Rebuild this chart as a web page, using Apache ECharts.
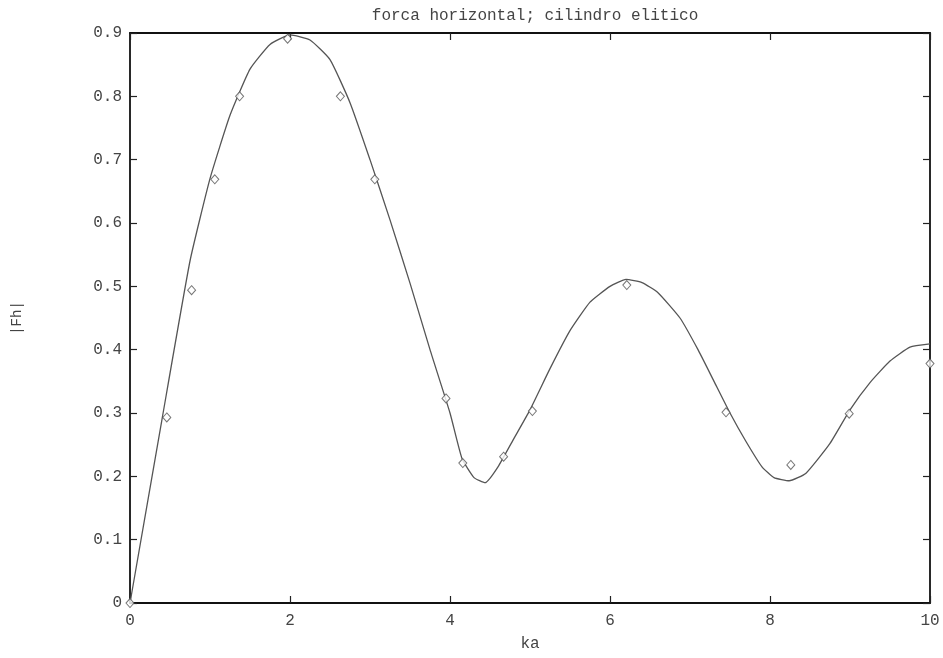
<!DOCTYPE html>
<html>
<head>
<meta charset="utf-8">
<script src="https://cdn.jsdelivr.net/npm/echarts@6/dist/echarts.min.js"></script>
<style>html,body{margin:0;padding:0;background:#fff;}#c{width:943px;height:658px;}</style>
</head>
<body>
<div id="c"></div>
<script>
// Curve (computed solution)
const curveKa = [0,0.4,0.75,1.0,1.25,1.5,1.75,2.0,2.25,2.5,2.75,3.0,3.25,3.5,3.75,4.0,4.15,4.3,4.44,4.6,4.8,5.0,5.25,5.5,5.75,6.0,6.2,6.4,6.6,6.875,7.1,7.3,7.5,7.7,7.9,8.05,8.24,8.45,8.75,9.0,9.25,9.5,9.75,10.0];
const curveFh = [0,0.29,0.54,0.67,0.77,0.843,0.882,0.897,0.889,0.858,0.79,0.70,0.605,0.505,0.40,0.30,0.228,0.198,0.19,0.215,0.26,0.305,0.37,0.43,0.475,0.50,0.511,0.506,0.49,0.45,0.40,0.35,0.30,0.255,0.215,0.198,0.193,0.205,0.252,0.305,0.348,0.382,0.404,0.409];
// Diamond markers
const markKa = [0,0.46,0.77,1.06,1.37,1.97,2.63,3.06,3.95,4.16,4.67,5.03,6.21,7.45,8.26,8.99,10.0];
const markFh = [0,0.293,0.494,0.669,0.80,0.891,0.80,0.669,0.323,0.221,0.231,0.303,0.502,0.301,0.218,0.299,0.378];
const xTicks = [0,2,4,6,8,10];
const yTicks = [0,0.1,0.2,0.3,0.4,0.5,0.6,0.7,0.8,0.9];

const font = 'Liberation Mono';
const chart = echarts.init(document.getElementById('c'));
const axLine = {show:true, onZero:false, lineStyle:{color:'#111', width:1.8}};
const tick = {show:true, inside:true, length:7, lineStyle:{color:'#222', width:1.2}};
chart.setOption({
  animation:false,
  backgroundColor:'#fff',
  title:{text:'forca horizontal; cilindro elitico', left:530, textAlign:'center', top:3,
    textStyle:{fontFamily:font, fontSize:16, fontWeight:'normal', color:'#444'}},
  grid:{left:130, right:13, top:33, bottom:55},
  xAxis:[
    {type:'value', min:0, max:10, interval:2, position:'bottom',
     name:'ka', nameLocation:'middle', nameGap:33,
     nameTextStyle:{fontFamily:font, fontSize:16, color:'#444'},
     axisLine:axLine, axisTick:tick, splitLine:{show:false},
     axisLabel:{fontFamily:font, fontSize:16, color:'#444', margin:10,
       formatter:v=>xTicks.includes(v)?String(v):''}},
    {type:'value', min:0, max:10, interval:2, position:'top',
     axisLine:axLine, axisTick:tick, splitLine:{show:false}, axisLabel:{show:false}}
  ],
  yAxis:[
    {type:'value', min:0, max:0.9, interval:0.1, position:'left',
     name:'|Fh|', nameLocation:'middle', nameGap:106, nameRotate:90,
     nameTextStyle:{fontFamily:font, fontSize:14, color:'#444'},
     axisLine:axLine, axisTick:tick, splitLine:{show:false},
     axisLabel:{fontFamily:font, fontSize:16, color:'#444', margin:8,
       formatter:v=>{const t=yTicks.find(q=>Math.abs(q-v)<1e-9);return t===undefined?'':String(t);}}},
    {type:'value', min:0, max:0.9, interval:0.1, position:'right',
     axisLine:axLine, axisTick:tick, splitLine:{show:false}, axisLabel:{show:false}}
  ],
  series:[
    {type:'line', data:curveKa.map((x,i)=>[x,curveFh[i]]), showSymbol:false, smooth:0.15,
     lineStyle:{color:'#555', width:1.3}, z:2},
    {type:'scatter', data:markKa.map((x,i)=>[x,markFh[i]]), symbol:'diamond', symbolSize:[8,9],
     itemStyle:{color:'#fff', borderColor:'#555', borderWidth:1}, z:3}
  ]
});
</script>
</body>
</html>
